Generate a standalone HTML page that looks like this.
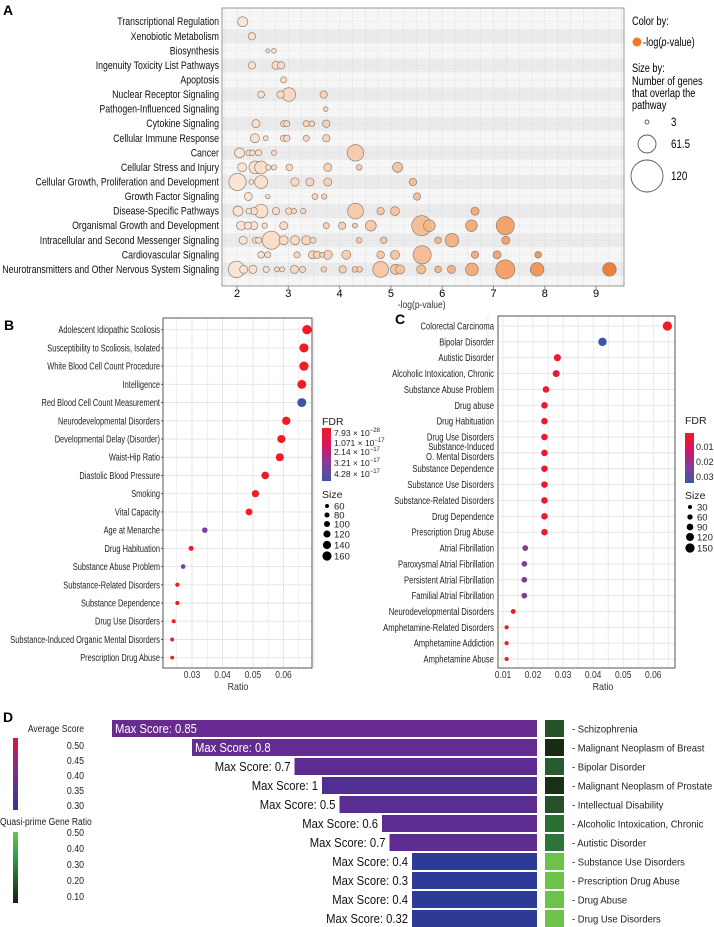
<!DOCTYPE html>
<html><head><meta charset="utf-8"><style>
html,body{margin:0;padding:0;background:#fff;}
svg{display:block;font-family:"Liberation Sans",sans-serif;}
</style></head><body>
<svg id="fig" width="714" height="927" viewBox="0 0 714 927" xmlns="http://www.w3.org/2000/svg">
<defs>
<linearGradient id="gB" x1="0" y1="0" x2="0" y2="1"><stop offset="0" stop-color="#ee1c25"/><stop offset="0.35" stop-color="#d4155f"/><stop offset="0.65" stop-color="#8a3a98"/><stop offset="1" stop-color="#3c55a5"/></linearGradient>
<linearGradient id="gD1" x1="0" y1="0" x2="0" y2="1"><stop offset="0" stop-color="#d8183a"/><stop offset="0.4" stop-color="#8a2a8a"/><stop offset="1" stop-color="#2d3a95"/></linearGradient>
<linearGradient id="gD2" x1="0" y1="0" x2="0" y2="1"><stop offset="0" stop-color="#6cc24a"/><stop offset="0.3" stop-color="#2fa84a"/><stop offset="0.6" stop-color="#2a6a34"/><stop offset="1" stop-color="#14200f"/></linearGradient>
</defs>
</svg>
<script>
// ---------- Panel A data ----------
const aCategories=["Transcriptional Regulation","Xenobiotic Metabolism","Biosynthesis","Ingenuity Toxicity List Pathways","Apoptosis","Nuclear Receptor Signaling","Pathogen-Influenced Signaling","Cytokine Signaling","Cellular Immune Response","Cancer","Cellular Stress and Injury","Cellular Growth, Proliferation and Development","Growth Factor Signaling","Disease-Specific Pathways","Organismal Growth and Development","Intracellular and Second Messenger Signaling","Cardiovascular Signaling","Neurotransmitters and Other Nervous System Signaling"];
const aLogP=[[2.11],[2.29],[2.60,2.72],[2.29,2.76,2.86],[2.91],[2.47,2.85,3.01,3.69],[3.73],
[2.37,2.91,2.97,3.35,3.46,3.74],[2.35,2.56,2.91,2.97,3.35,3.74],[2.05,2.23,2.30,2.42,2.72,4.31],
[2.10,2.36,2.47,2.61,2.72,3.02,3.77,4.38,5.13],[2.01,2.28,2.47,3.13,3.42,3.77,5.43],[2.22,2.60,3.52,3.70,5.51],
[2.02,2.23,2.33,2.47,2.76,3.01,3.11,3.29,4.31,4.80,5.08,6.64],
[2.08,2.21,2.33,2.54,2.91,3.74,4.05,4.30,4.61,5.60,5.75,6.57,7.23],
[2.12,2.36,2.42,2.67,2.91,3.13,3.35,3.48,4.38,4.86,5.92,6.19,7.24],
[2.47,2.60,3.17,3.47,3.56,3.66,3.77,4.13,4.80,5.08,5.61,6.64,7.07,7.87],
[1.99,2.13,2.31,2.57,2.78,2.88,3.12,3.28,3.69,4.06,4.30,4.39,4.80,5.09,5.18,5.59,5.92,6.18,6.58,7.23,7.85,9.26]];
const aGenes=[[28],[17],[3,6],[17,20,17],[12],[15,17,43,17],[6],
[20,12,12,12,10,17],[24,7,13,13,12,17],[28,10,10,12,7,55],
[24,40,40,9,8,14,20,10,28],[58,6,40,21,20,20,17],[20,5,11,9,17],
[28,10,17,43,17,14,8,9,52,17,24,20],
[24,17,20,9,20,12,17,7,31,70,35,35,62],
[20,12,12,62,24,24,24,12,10,14,14,43,20],
[14,12,12,20,17,7,24,24,18,24,62,17,20,14],
[55,20,20,12,7,7,20,12,9,17,10,10,52,28,24,24,14,20,40,66,43,43]];
const aTicks=[2,3,4,5,6,7,8,9];
const aLegendSizes=[3,61.5,120];
// ---------- Panel B data ----------
const bCategories=["Adolescent Idiopathic Scoliosis","Susceptibility to Scoliosis, Isolated","White Blood Cell Count Procedure","Intelligence","Red Blood Cell Count Measurement","Neurodevelopmental Disorders","Developmental Delay (Disorder)","Waist-Hip Ratio","Diastolic Blood Pressure","Smoking","Vital Capacity","Age at Menarche","Drug Habituation","Substance Abuse Problem","Substance-Related Disorders","Substance Dependence","Drug Use Disorders","Substance-Induced Organic Mental Disorders","Prescription Drug Abuse"];
const bRatio=[0.0677,0.0667,0.0667,0.0660,0.0660,0.0609,0.0593,0.0588,0.0540,0.0508,0.0487,0.0342,0.0297,0.0271,0.0252,0.0252,0.0240,0.0235,0.0235];
const bSize=[165,160,160,155,155,145,140,138,130,122,115,90,80,72,65,65,60,58,56];
const bFdr=[0,0,0,0,4.28,0,0,0,0,0,0,3.0,0,3.1,0,0,0,0,0]; // x1e-17
const bTicks=[0.03,0.04,0.05,0.06];
const bLegendSizes=[60,80,100,120,140,160];
const bFdrLabels=["7.93 × 10","1.071 × 10","2.14 × 10","3.21 × 10","4.28 × 10"];
const bFdrExp=["−28","−17","−17","−17","−17"];
// ---------- Panel C data ----------
const cCategories=["Colorectal Carcinoma","Bipolar Disorder","Autistic Disorder","Alcoholic Intoxication, Chronic","Substance Abuse Problem","Drug abuse","Drug Habituation","Drug Use Disorders","Substance-Induced|O. Mental Disorders","Substance Dependence","Substance Use Disorders","Substance-Related Disorders","Drug Dependence","Prescription Drug Abuse","Atrial Fibrillation","Paroxysmal Atrial Fibrillation","Persistent Atrial Fibrillation","Familial Atrial Fibrillation","Neurodevelopmental Disorders","Amphetamine-Related Disorders","Amphetamine Addiction","Amphetamine Abuse"];
const cRatio=[0.0647,0.0431,0.0281,0.0277,0.0243,0.0238,0.0238,0.0238,0.0238,0.0238,0.0238,0.0238,0.0238,0.0238,0.0174,0.0171,0.0171,0.0171,0.0134,0.0112,0.0112,0.0112];
const cSize=[150,130,100,98,90,88,88,88,88,88,88,88,88,88,72,70,70,70,50,32,32,32];
const cFdr=[0.004,0.03,0.006,0.008,0.005,0.005,0.005,0.005,0.005,0.005,0.005,0.005,0.005,0.005,0.021,0.022,0.022,0.022,0.006,0.005,0.005,0.005];
const cTicks=[0.01,0.02,0.03,0.04,0.05,0.06];
const cLegendSizes=[30,60,90,120,150];
const cFdrTicks=[0.01,0.02,0.03];
// ---------- Panel D data ----------
const dCategories=["Schizophrenia","Malignant Neoplasm of Breast","Bipolar Disorder","Malignant Neoplasm of Prostate","Intellectual Disability","Alcoholic Intoxication, Chronic","Autistic Disorder","Substance Use Disorders","Prescription Drug Abuse","Drug Abuse","Drug Use Disorders"];
const dMaxScore=["0.85","0.8","0.7","1","0.5","0.6","0.7","0.4","0.3","0.4","0.32"];
const dCount=[85,69,48.5,43,39.5,31,29.5,25,25,25,25];
const dAvgScore=[0.375,0.37,0.36,0.345,0.355,0.36,0.362,0.30,0.30,0.30,0.30];
const dQuasiRatio=[0.2,0.12,0.22,0.13,0.2,0.26,0.27,0.5,0.5,0.5,0.5];
const dAvgTicks=["0.50","0.45","0.40","0.35","0.30"];
const dQuasiTicks=["0.50","0.40","0.30","0.20","0.10"];

const svg=document.getElementById('fig');
const NS='http://www.w3.org/2000/svg';
function mk(tag,at,par){const e=document.createElementNS(NS,tag);for(const k in at)e.setAttribute(k,at[k]);(par||svg).appendChild(e);return e;}
function tx(str,x,y,at,par){const e=mk('text',Object.assign({x:x,y:y},at),par);e.textContent=str;return e;}
function cond(e,f){const w=e.getComputedTextLength();if(w>0){e.setAttribute('textLength',(w*f).toFixed(1));e.setAttribute('lengthAdjust','spacingAndGlyphs');}return e;}
function lerp(a,b,t){return a.map((v,i)=>Math.round(v+(b[i]-v)*t));}
function rgb(c){return 'rgb('+c.join(',')+')';}
function grad(stops,t){t=Math.max(0,Math.min(1,t));for(let i=0;i<stops.length-1;i++){if(t<=stops[i+1][0]){const u=(t-stops[i][0])/(stops[i+1][0]-stops[i][0]);return rgb(lerp(stops[i][1],stops[i+1][1],u));}}return rgb(stops[stops.length-1][1]);}

// ===== Panel A =====
const gA=mk('g',{});


const AX0=222,AX1=624,AY0=8,AY1=286;
const xA=v=>237+(v-2)*51.3;
const yA=i=>21.7+i*14.57;
const rA=s=>1.64+0.1197*s;
let t=tx('A',3,15,{'font-size':14,'font-weight':'bold'},gA);


const bgA=mk('rect',{x:AX0,y:AY0,width:AX1-AX0,height:AY1-AY0,fill:'#f6f6f6'},gA);


aCategories.forEach((c,i)=>{
  if(i%2===1){const s=mk('rect',{x:AX0,y:yA(i)-7,width:AX1-AX0,height:14,fill:'#ebebeb'},gA);
  
  }
});
for(let v=1.75;v<=9.5;v+=0.25){const l=mk('line',{x1:xA(v),x2:xA(v),y1:AY0,y2:AY1,stroke:'#cfcfcf','stroke-width':0.5,'stroke-dasharray':'1.5,1.5'},gA);

}
aCategories.forEach((c,i)=>{const l=mk('line',{x1:AX0,x2:AX1,y1:yA(i),y2:yA(i),stroke:'#dadada','stroke-width':0.5,'stroke-dasharray':'1.5,1.5'},gA);

});
const boxA=mk('rect',{x:AX0,y:AY0,width:AX1-AX0,height:AY1-AY0,fill:'none',stroke:'#9a9a9a','stroke-width':1},gA);


aCategories.forEach((c,i)=>{
  const l=tx(c,219,yA(i)+3.5,{'font-size':11.2,'text-anchor':'end',fill:'#111'},gA);
  
  
  cond(l,0.785);
  const idx=aGenes[i].map((s,k)=>k).sort((p,q)=>aGenes[i][q]-aGenes[i][p]);
  idx.forEach(k=>{
    const v=aLogP[i][k],s=aGenes[i][k];
    const col=grad([[0,[251,228,210]],[0.45,[246,190,150]],[1,[238,118,38]]],(v-2)/7.3);
    const b=mk('circle',{cx:xA(v),cy:yA(i),r:rA(s),fill:col,stroke:'#8e8078','stroke-width':0.7,'fill-opacity':0.92},gA);
    
    
  });
});
aTicks.forEach(v=>{const l=tx(String(v),xA(v),297,{'font-size':11,'text-anchor':'middle'},gA);


const tk=mk('line',{x1:xA(v),x2:xA(v),y1:AY1,y2:AY1+3,stroke:'#888'},gA);

});
t=tx('-log(p-value)',xA(5.6),308,{'font-size':10,'text-anchor':'middle',fill:'#333'},gA);


cond(t,0.85);
// legend A
t=tx('Color by:',632,25,{'font-size':11.5},gA);


cond(t,0.8);
const ld=mk('circle',{cx:637,cy:42,r:4.5,fill:'#ef7a2c'},gA);


t=tx('-log(',643,46,{'font-size':11.5},gA);


const ts=mk('tspan',{'font-style':'italic'},t);ts.textContent='p';
const ts2=mk('tspan',{},t);ts2.textContent='-value)';
cond(t,0.8);
['Size by:','Number of genes','that overlap the','pathway'].forEach((s,i)=>{
  const l=tx(s,632,[72,85,97,109][i],{'font-size':11.5},gA);
  
  
  cond(l,0.8);
});
aLegendSizes.forEach((s,i)=>{
  const cy=[122,144,176][i];
  const c=mk('circle',{cx:647,cy:cy,r:rA(s),fill:'none',stroke:'#555','stroke-width':0.9},gA);
  
  
  const l=tx(String(s),671,cy+4,{'font-size':11.5},gA);
  
  
  cond(l,0.85);
});

// ===== Panel B =====
const gB=mk('g',{});


const BX0=163,BX1=312,BY0=318,BY1=668;
const xB=v=>192+(v-0.03)*3050;
const yB=i=>329.7+i*18.22;
const rB=s=>2+(s-60)*0.026;
const fdrBcol=f=>grad([[0,[238,28,37]],[0.35,[212,21,95]],[0.65,[138,58,152]],[1,[60,85,165]]],f/4.28);
t=tx('B',4,330,{'font-size':14,'font-weight':'bold'},gB);


for(let k=0;k<=9;k++){const v=0.025+k*0.005;const l=mk('line',{x1:xB(v),x2:xB(v),y1:BY0,y2:BY1,stroke:'#e3e3e3','stroke-width':k%2?0.9:0.5},gB);

}
bCategories.forEach((c,i)=>{
  const g=mk('line',{x1:BX0,x2:BX1,y1:yB(i),y2:yB(i),stroke:'#e3e3e3','stroke-width':0.9},gB);
  
  
  const l=tx(c,160,yB(i)+3.5,{'font-size':10,'text-anchor':'end',fill:'#222'},gB);
  
  
  cond(l,0.74);
  const tk=mk('line',{x1:BX0-2,x2:BX0,y1:yB(i),y2:yB(i),stroke:'#555'},gB);
  
  
});
const boxB=mk('rect',{x:BX0,y:BY0,width:BX1-BX0,height:BY1-BY0,fill:'none',stroke:'#555','stroke-width':1},gB);


bCategories.forEach((c,i)=>{
  const d=mk('circle',{cx:xB(bRatio[i]),cy:yB(i),r:rB(bSize[i]),fill:fdrBcol(bFdr[i])},gB);
  
  
});
bTicks.forEach(v=>{const l=tx(v.toFixed(2),xB(v),678,{'font-size':10,'text-anchor':'middle',fill:'#333'},gB);


cond(l,0.85);});
t=tx('Ratio',238,690,{'font-size':10.5,'text-anchor':'middle',fill:'#333'},gB);


cond(t,0.85);
t=tx('FDR',322,425,{'font-size':10.5,fill:'#222'},gB);


const gbB=mk('rect',{x:322,y:428,width:9,height:53,fill:'url(#gB)'},gB);


bFdrLabels.forEach((s,i)=>{
  const l=tx(s,334,[436,446,455,466,477][i],{'font-size':8.5,fill:'#222'},gB);
  
  
  const e=mk('tspan',{'font-size':6,dy:-4},l);e.textContent=bFdrExp[i];
});
t=tx('Size',322,498,{'font-size':10.5,fill:'#222'},gB);


bLegendSizes.forEach((s,i)=>{
  const cy=[506,515,524,534,545,556][i];
  const c=mk('circle',{cx:327,cy:cy,r:rB(s),fill:'#000'},gB);
  
  
  const l=tx(String(s),334,cy+3.5,{'font-size':9.5,fill:'#222'},gB);
  
  
});

// ===== Panel C =====
const gC=mk('g',{});


const CX0=498,CX1=675,CY0=316,CY1=668;
const xC=v=>503+(v-0.01)*3005;
const yC=i=>326+i*15.86;
const rC=s=>2+(s-30)*0.022;
const fdrCcol=f=>grad([[0,[238,28,37]],[0.35,[212,21,95]],[0.65,[138,58,152]],[1,[60,85,165]]],(f-0.004)/0.026);
t=tx('C',395,324,{'font-size':14,'font-weight':'bold'},gC);


for(let k=0;k<=12;k++){const v=0.005+k*0.005;if(xC(v)>CX1)break;const l=mk('line',{x1:xC(v),x2:xC(v),y1:CY0,y2:CY1,stroke:'#e3e3e3','stroke-width':0.7},gC);

}
cCategories.forEach((c,i)=>{
  const g=mk('line',{x1:CX0,x2:CX1,y1:yC(i),y2:yC(i),stroke:'#e3e3e3','stroke-width':0.9},gC);
  
  
  const parts=c.split('|');
  parts.forEach((p,k)=>{
    const yy=parts.length>1?yC(i)-3+k*10:yC(i)+3.5;
    const l=tx(p,494,yy,{'font-size':9.8,'text-anchor':'end',fill:'#222'},gC);
    
    
    cond(l,0.78);
  });
});
const boxC=mk('rect',{x:CX0,y:CY0,width:CX1-CX0,height:CY1-CY0,fill:'none',stroke:'#555','stroke-width':1},gC);


cCategories.forEach((c,i)=>{
  const d=mk('circle',{cx:xC(cRatio[i]),cy:yC(i),r:rC(cSize[i]),fill:fdrCcol(cFdr[i])},gC);
  
  
});
cTicks.forEach(v=>{const l=tx(v.toFixed(2),xC(v),678,{'font-size':10,'text-anchor':'middle',fill:'#333'},gC);


cond(l,0.85);});
t=tx('Ratio',603,690,{'font-size':10.5,'text-anchor':'middle',fill:'#333'},gC);


cond(t,0.85);
t=tx('FDR',685,424,{'font-size':10.5,fill:'#222'},gC);


const gbC=mk('rect',{x:685,y:433,width:9,height:50,fill:'url(#gB)'},gC);


cFdrTicks.forEach((v,i)=>{
  const l=tx(v.toFixed(2),696,[450,465,480][i],{'font-size':9,fill:'#222'},gC);
  
  
});
t=tx('Size',685,499,{'font-size':10.5,fill:'#222'},gC);


cLegendSizes.forEach((s,i)=>{
  const cy=[507,517,527,537,548][i];
  const c=mk('circle',{cx:690,cy:cy,r:rC(s),fill:'#000'},gC);
  
  
  const l=tx(String(s),697,cy+3.5,{'font-size':9.5,fill:'#222'},gC);
  
  
});

// ===== Panel D =====
const gD=mk('g',{});


const DXR=537;
const xD=v=>DXR-v*5;
const yD=i=>720+i*19;
const avgCol=s=>grad([[0,[45,58,150]],[0.25,[85,45,145]],[0.6,[138,40,140]],[1,[216,24,58]]],(s-0.30)/0.20);
const quasiCol=r=>grad([[0,[20,32,15]],[0.25,[38,82,42]],[0.5,[46,130,60]],[0.75,[58,168,74]],[1,[108,194,74]]],(r-0.10)/0.40);
t=tx('D',3,722,{'font-size':14,'font-weight':'bold'},gD);


dCategories.forEach((c,i)=>{
  const x0=xD(dCount[i]);
  const b=mk('rect',{x:x0,y:yD(i),width:DXR-x0,height:17,fill:avgCol(dAvgScore[i])},gD);
  
  
  const inside=dCount[i]>60;
  const l=tx('Max Score: '+dMaxScore[i],inside?x0+3:x0-4,yD(i)+13,{'font-size':12.5,'text-anchor':inside?'start':'end',fill:inside?'#fff':'#111'},gD);
  
  
  cond(l,0.9);
  const q=mk('rect',{x:545,y:yD(i),width:19,height:17,fill:quasiCol(dQuasiRatio[i])},gD);
  
  
  const n=tx('-  '+c,572,yD(i)+12.5,{'font-size':10.5,fill:'#222'},gD);
  
  
  cond(n,0.9);
});
t=tx('Average Score',84,732,{'font-size':10,'text-anchor':'end',fill:'#222'},gD);


cond(t,0.85);
const c1=mk('rect',{x:13,y:738,width:5,height:72,fill:'url(#gD1)'},gD);


dAvgTicks.forEach((s,i)=>{const l=tx(s,84,749+i*15,{'font-size':10,'text-anchor':'end',fill:'#222'},gD);


cond(l,0.88);});
t=tx('Quasi-prime Gene Ratio',0,825,{'font-size':10,fill:'#222'},gD);


cond(t,0.85);
const c2=mk('rect',{x:13,y:832,width:5,height:71,fill:'url(#gD2)'},gD);


dQuasiTicks.forEach((s,i)=>{const l=tx(s,84,836+i*16,{'font-size':10,'text-anchor':'end',fill:'#222'},gD);


cond(l,0.88);});
</script>
</body></html>
